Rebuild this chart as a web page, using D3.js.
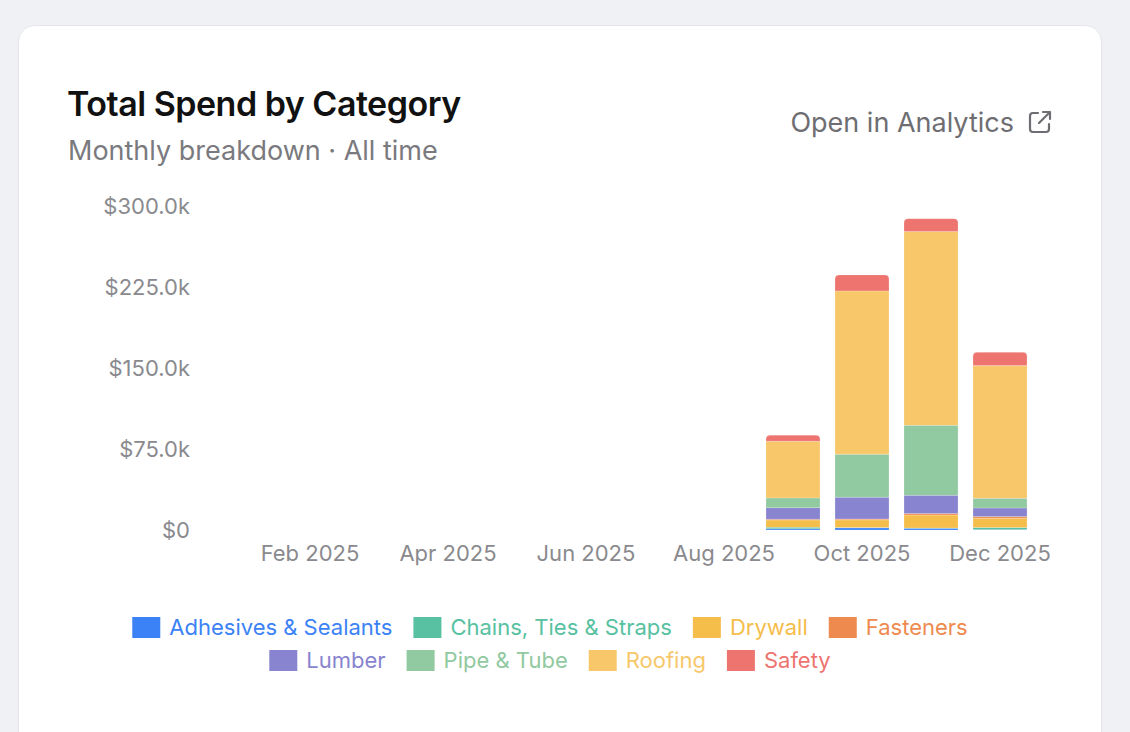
<!DOCTYPE html>
<html>
<head>
<meta charset="utf-8">
<script src="https://cdn.jsdelivr.net/npm/d3@7"></script>
<style>
  html, body { margin: 0; padding: 0; background: #f0f1f5; }
  body { width: 1130px; height: 732px; overflow: hidden; font-family: Inter, "Noto Sans", sans-serif; }
  svg text { font-family: Inter, "Noto Sans", sans-serif; }
</style>
</head>
<body>
<svg id="vis" width="1130" height="732"></svg>
<script>
// months on the x axis (band per month), labels only every other month
const months = ["Jan 2025", "Feb 2025", "Mar 2025", "Apr 2025", "May 2025", "Jun 2025",
                "Jul 2025", "Aug 2025", "Sep 2025", "Oct 2025", "Nov 2025", "Dec 2025"];
const tickMonths = ["Feb 2025", "Apr 2025", "Jun 2025", "Aug 2025", "Oct 2025", "Dec 2025"];

const categories = ["Adhesives & Sealants", "Chains, Ties & Straps", "Drywall", "Fasteners",
                    "Lumber", "Pipe & Tube", "Roofing", "Safety"];
const colors = ["#3b82f6", "#57c1a1", "#f5bd4a", "#ef8a4e", "#8884d0", "#91c9a0", "#f7c76a", "#ee7470"];

// spend in $k per month, one array per category (Jan..Dec)
const adhesives = [0, 0, 0, 0, 0, 0, 0, 0, 1.2, 2.1, 1.6, 0.5];
const chains    = [0, 0, 0, 0, 0, 0, 0, 0, 1.3, 0.2, 0.3, 1.8];
const drywall   = [0, 0, 0, 0, 0, 0, 0, 0, 6.8, 7.1, 11.9, 8.6];
const fasteners = [0, 0, 0, 0, 0, 0, 0, 0, 0.7, 0.9, 1.4, 1.5];
const lumber    = [0, 0, 0, 0, 0, 0, 0, 0, 10.7, 20.1, 16.9, 8.0];
const pipe      = [0, 0, 0, 0, 0, 0, 0, 0, 9.0, 39.8, 64.8, 8.9];
const roofing   = [0, 0, 0, 0, 0, 0, 0, 0, 52.5, 151.2, 179.4, 122.9];
const safety    = [0, 0, 0, 0, 0, 0, 0, 0, 5.6, 14.8, 12.0, 12.3];

const yTicks = [0, 75, 150, 225, 300];

const series = [adhesives, chains, drywall, fasteners, lumber, pipe, roofing, safety];
const table = months.map((m, i) => {
  const row = { month: m };
  categories.forEach((c, j) => { row[c] = series[j][i]; });
  return row;
});

const svg = d3.select("#vis");

// card
svg.append("rect")
  .attr("x", 18.5).attr("y", 25.5)
  .attr("width", 1083).attr("height", 760)
  .attr("rx", 16)
  .attr("fill", "#fff")
  .attr("stroke", "#e4e5e9");

svg.append("text")
  .attr("x", 67).attr("y", 116)
  .attr("font-size", 34).attr("font-weight", 600)
  .attr("fill", "#111")
  .attr("letter-spacing", "-0.5")
  .text("Total Spend by Category");

svg.append("text")
  .attr("x", 68).attr("y", 160)
  .attr("font-size", 27)
  .attr("fill", "#7a7a7e")
  .text("Monthly breakdown · All time");

svg.append("text")
  .attr("x", 1014).attr("y", 132)
  .attr("text-anchor", "end")
  .attr("font-size", 27)
  .attr("fill", "#6e6e72")
  .text("Open in Analytics");

// external link icon
const icon = svg.append("g")
  .attr("transform", "translate(1028,110)")
  .attr("fill", "none").attr("stroke", "#6e6e72")
  .attr("stroke-width", 2.2).attr("stroke-linecap", "round").attr("stroke-linejoin", "round");
icon.append("path").attr("d", "M10 3 H5 a3 3 0 0 0 -3 3 V19 a3 3 0 0 0 3 3 H18 a3 3 0 0 0 3 -3 V14");
icon.append("path").attr("d", "M15 2 H22 V9 M22 2 L11 13");

// scales
const x = d3.scaleBand().domain(months).range([199, 1042]).padding(0.217);
const y = d3.scaleLinear().domain([0, 300]).range([530, 206]);

const stacked = d3.stack().keys(categories)(table);

// y axis labels
svg.append("g").selectAll("text")
  .data(yTicks).enter().append("text")
  .attr("x", 190).attr("y", d => y(d))
  .attr("dy", "0.36em")
  .attr("text-anchor", "end")
  .attr("font-size", 22)
  .attr("fill", "#8a8a8e")
  .text(d => d === 0 ? "$0" : "$" + d.toFixed(1) + "k");

// x axis labels
svg.append("g").selectAll("text")
  .data(tickMonths).enter().append("text")
  .attr("x", d => x(d) + x.bandwidth() / 2).attr("y", 561)
  .attr("text-anchor", "middle")
  .attr("font-size", 22)
  .attr("fill", "#8a8a8e")
  .text(d => d);

// top segment of each month gets rounded corners
const topKey = {};
table.forEach(row => {
  let k = null;
  categories.forEach(c => { if (row[c] > 0) k = c; });
  topKey[row.month] = k;
});

function segPath(d, key) {
  const x0 = x(d.data.month), w = x.bandwidth();
  const yt = y(d[1]), yb = y(d[0]);
  const h = yb - yt;
  const r = topKey[d.data.month] === key ? Math.min(4, h) : 0;
  return `M${x0},${yb} V${yt + r} Q${x0},${yt} ${x0 + r},${yt} H${x0 + w - r} Q${x0 + w},${yt} ${x0 + w},${yt + r} V${yb} Z`;
}

const groups = svg.append("g").selectAll("g")
  .data(stacked).enter().append("g")
  .attr("fill", (d, i) => colors[i]);

groups.each(function(s) {
  d3.select(this).selectAll("path")
    .data(s.filter(d => d[1] - d[0] > 0))
    .enter().append("path")
    .attr("d", d => segPath(d, s.key))
    .attr("stroke", "#fff").attr("stroke-opacity", 0.35).attr("stroke-width", 0.6);
});

// legend, two centred rows
const rows = [categories.slice(0, 4), categories.slice(4)];
const rowY = [627, 660];
rows.forEach((row, ri) => {
  const g = svg.append("g");
  let cx = 0;
  row.forEach(c => {
    const ci = categories.indexOf(c);
    const item = g.append("g").attr("transform", `translate(${cx},0)`);
    item.append("rect")
      .attr("x", 0).attr("y", -10)
      .attr("width", 28).attr("height", 21)
      .attr("fill", colors[ci]);
    const t = item.append("text")
      .attr("x", 37).attr("y", 0).attr("dy", "0.35em")
      .attr("font-size", 22)
      .attr("fill", colors[ci])
      .text(c);
    cx += 37 + t.node().getComputedTextLength() + 21;
  });
  const total = cx - 21;
  g.attr("transform", `translate(${550 - total / 2},${rowY[ri]})`);
});
</script>
</body>
</html>
